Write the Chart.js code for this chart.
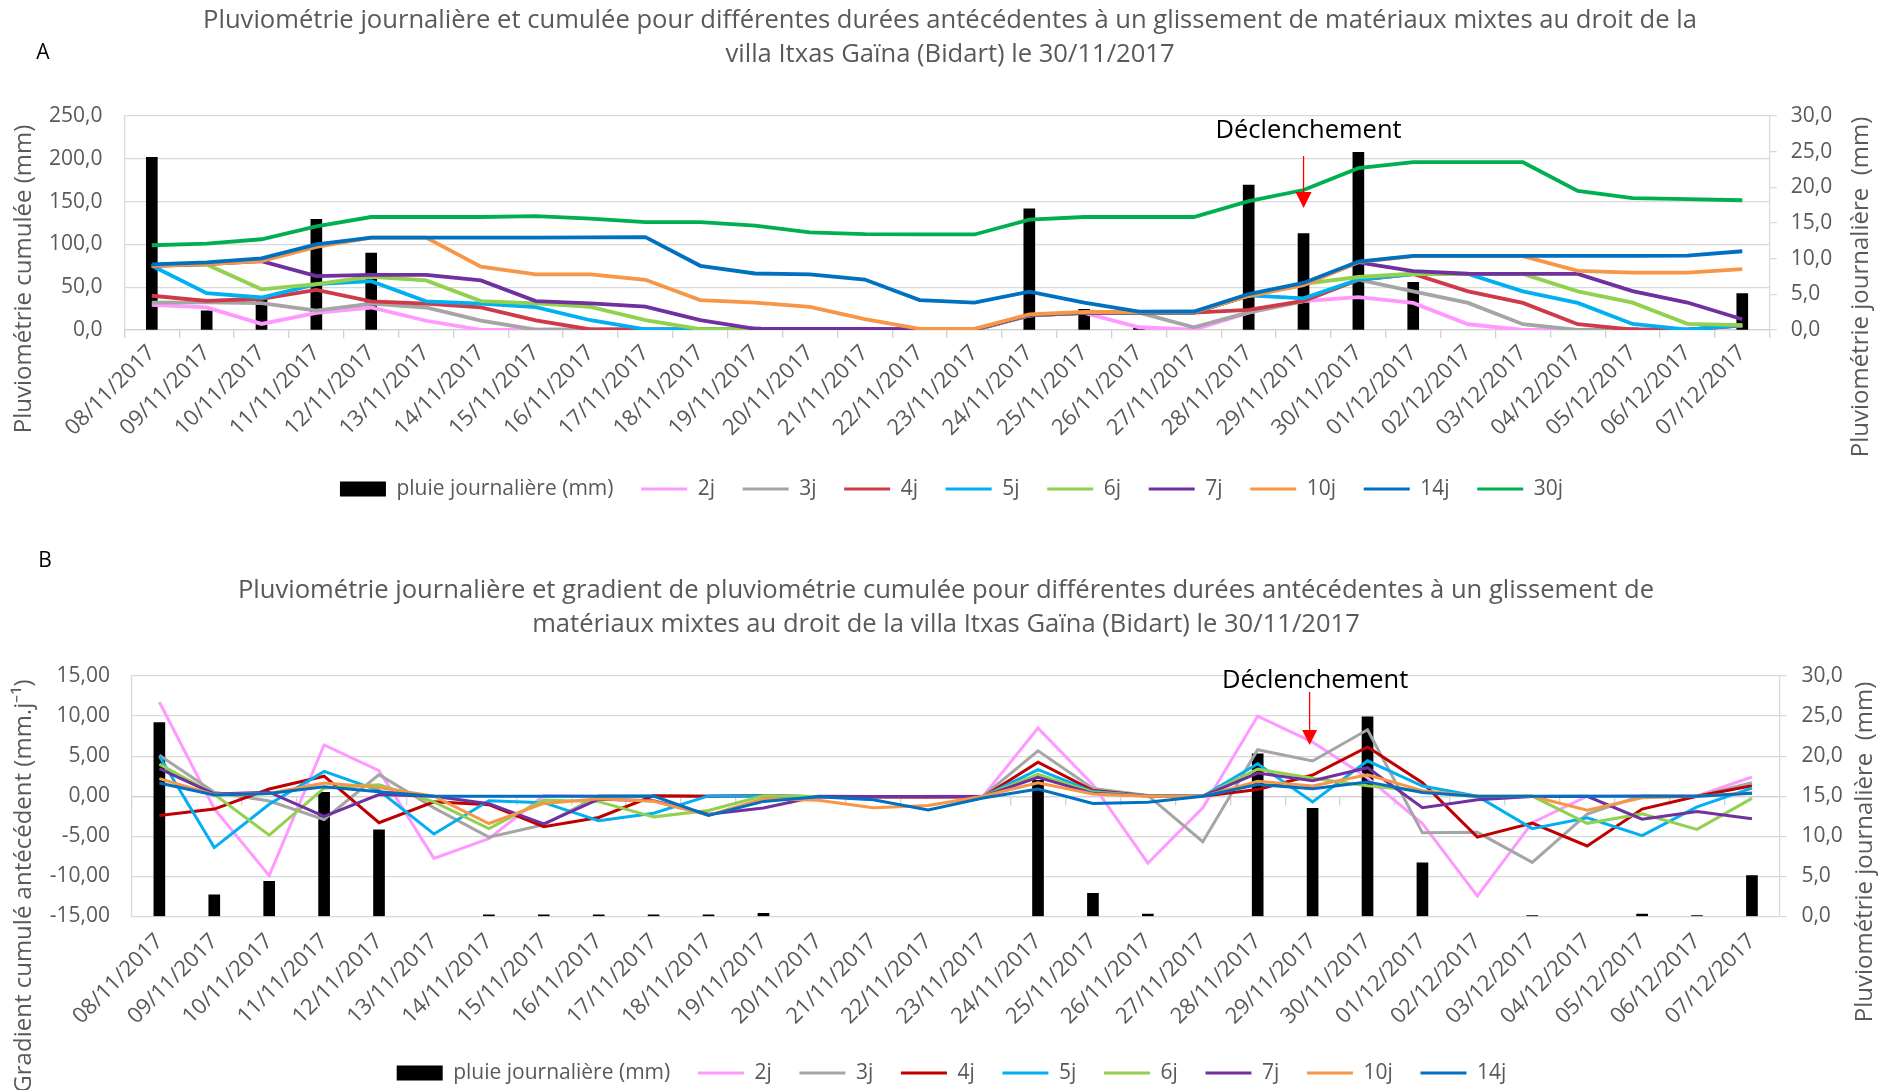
<!DOCTYPE html>
<html lang="fr">
<head>
<meta charset="utf-8">
<title>Pluviométrie - villa Itxas Gaïna (Bidart)</title>
<script src="https://cdn.jsdelivr.net/npm/chart.js@4.4.1/dist/chart.umd.min.js"></script>
<style>
  html, body { margin: 0; padding: 0; background: #fff; overflow: hidden; }
  #chartA { position: absolute; left: 0; top: 0; }
  #chartB { position: absolute; left: 0; top: 525px; }
</style>
</head>
<body>
<canvas id="chartA" width="1903" height="525"></canvas>
<canvas id="chartB" width="1903" height="570"></canvas>
<script>
// dates (08/11/2017 -> 07/12/2017)
const dates = ["08/11/2017", "09/11/2017", "10/11/2017", "11/11/2017", "12/11/2017", "13/11/2017",
  "14/11/2017", "15/11/2017", "16/11/2017", "17/11/2017", "18/11/2017", "19/11/2017", "20/11/2017",
  "21/11/2017", "22/11/2017", "23/11/2017", "24/11/2017", "25/11/2017", "26/11/2017", "27/11/2017",
  "28/11/2017", "29/11/2017", "30/11/2017", "01/12/2017", "02/12/2017", "03/12/2017", "04/12/2017",
  "05/12/2017", "06/12/2017", "07/12/2017"];

// pluie journaliere (mm)
const rain = [24.2, 2.7, 4.4, 15.5, 10.8, 0, 0.2, 0.2, 0.2, 0.2, 0.2, 0.4, 0, 0, 0, 0, 17.0, 2.9, 0.3, 0,
  20.3, 13.5, 24.9, 6.7, 0, 0.1, 0, 0.3, 0.1, 5.1];

// pluviometrie cumulee (mm)
const cum2j = [29.5, 26.4, 7.1, 19.9, 26.3, 10.8, 0.2, 0.4, 0.4, 0.4, 0.4, 0.6, 0.4, 0, 0, 0, 17.0, 19.9, 3.2, 0.3,
  20.3, 33.8, 38.4, 31.6, 6.7, 0.1, 0.1, 0.3, 0.4, 5.2];
const cum3j = [32.0, 32.2, 31.3, 22.6, 30.7, 26.3, 11.0, 0.4, 0.6, 0.6, 0.6, 0.8, 0.6, 0.4, 0, 0, 17.0, 19.9, 20.2, 3.2,
  20.6, 33.8, 58.7, 45.1, 31.6, 6.8, 0.1, 0.4, 0.4, 5.5];
const cum4j = [40.0, 34.0, 36.5, 46.8, 33.4, 30.7, 26.5, 11.2, 0.6, 0.8, 0.8, 1.0, 0.8, 0.6, 0.4, 0, 17.0, 19.9, 20.2, 20.2,
  23.5, 34.1, 58.7, 65.4, 45.1, 31.7, 6.8, 0.4, 0.4, 5.5];
const cum5j = [75.0, 43.0, 38.0, 53.5, 57.0, 33.5, 30.7, 26.7, 11.4, 0.8, 1.0, 1.2, 1.0, 0.8, 0.6, 0.4, 17.0, 19.9, 20.2, 20.2,
  40.5, 36.9, 59.0, 65.4, 65.4, 45.2, 31.7, 7.1, 0.5, 5.6];
const cum6j = [75.0, 76.5, 47.5, 53.6, 62.2, 58.0, 33.8, 31.0, 27.0, 11.6, 1.0, 1.4, 1.2, 1.0, 0.8, 0.6, 17.0, 19.9, 20.2, 20.2,
  40.5, 54.0, 61.9, 65.7, 65.4, 65.5, 45.2, 32.0, 7.2, 5.6];
const cum7j = [75.0, 77.0, 80.5, 63.0, 64.5, 64.5, 58.0, 33.8, 31.2, 27.2, 11.6, 1.4, 1.4, 1.2, 1.0, 0.8, 17.4, 19.9, 20.2, 20.2,
  40.5, 54.0, 78.9, 68.8, 65.7, 65.5, 65.5, 45.5, 32.1, 12.5];
const cum10j = [75.0, 77.0, 80.5, 97.0, 108.0, 108.0, 74.0, 65.0, 65.0, 58.7, 35.0, 32.0, 27.0, 12.8, 1.4, 1.4, 18.3, 21.0, 21.0, 20.8,
  39.7, 52.5, 79.3, 86.3, 86.3, 86.3, 69.0, 67.0, 67.0, 71.0];
const cum14j = [76.6, 79.0, 83.6, 100.0, 108.0, 108.0, 108.0, 108.0, 108.2, 108.5, 75.0, 66.0, 65.0, 59.0, 35.0, 32.0, 44.7, 32.1, 21.4, 21.6,
  42.0, 55.0, 80.0, 86.7, 86.7, 86.7, 86.7, 86.7, 86.9, 92.0];
const cum30j = [99.0, 101.0, 106.0, 121.0, 132.0, 132.0, 132.0, 133.0, 130.0, 126.0, 126.0, 122.0, 114.0, 112.0, 111.6, 111.6, 129.0, 132.0, 132.0, 132.0,
  150.5, 163.5, 189.0, 196.0, 196.0, 196.0, 162.5, 154.0, 153.0, 151.6];

// gradient de pluviometrie cumulee (mm.j-1)
const grad2j = [11.75, -1.55, -9.9, 6.4, 3.2, -7.75, -5.3, 0.1, 0, 0, 0, 0.1, -0.1, -0.2, 0, 0, 8.5, 1.45, -8.35, -1.45,
  10.0, 6.75, 2.3, -3.4, -12.45, -3.3, 0, 0.1, 0.05, 2.4];
const grad3j = [5.1, 0.5, -0.6, -2.9, 2.7, -1.45, -5.1, -3.55, 0.07, 0, 0, 0.07, -0.07, -0.13, -0.13, 0, 5.67, 0.97, 0.1, -5.67,
  5.8, 4.4, 8.3, -4.55, -4.5, -8.25, -2.23, 0.1, 0, 1.7];
const grad4j = [-2.4, -1.6, 0.9, 2.5, -3.3, -0.7, -1.05, -3.8, -2.65, 0.05, 0, 0.05, -0.05, -0.05, -0.1, -0.1, 4.25, 0.72, 0.07, 0,
  0.83, 2.65, 6.15, 1.7, -5.1, -3.35, -6.2, -1.6, 0, 1.3];
const grad5j = [5.0, -6.4, -1.0, 3.1, 0.7, -4.7, -0.56, -0.8, -3.06, -2.12, 0.04, 0.04, -0.04, -0.04, -0.04, -0.04, 3.32, 0.58, 0.06, 0,
  4.06, -0.72, 4.42, 1.28, 0, -4.04, -2.7, -4.92, -1.32, 1.02];
const grad6j = [4.0, 0.25, -4.85, 1.0, 1.43, -0.7, -4.03, -0.47, -0.67, -2.57, -1.77, 0.07, -0.03, -0.03, -0.03, -0.03, 2.73, 0.48, 0.05, 0,
  3.38, 2.25, 1.32, 0.63, -0.05, 0.02, -3.38, -2.2, -4.13, -0.27];
const grad7j = [3.45, 0.29, 0.5, -2.5, 0.21, 0, -0.93, -3.46, -0.37, -0.57, -2.23, -1.46, 0, -0.03, -0.03, -0.03, 2.37, 0.36, 0.04, 0,
  2.9, 1.93, 3.56, -1.44, -0.44, -0.03, 0, -2.86, -1.91, -2.8];
const grad10j = [2.2, 0.2, 0.35, 1.65, 1.1, 0, -3.4, -0.9, -0.3, -0.63, -2.37, -0.3, -0.5, -1.42, -1.14, 0, 1.69, 0.27, 0, -0.02,
  1.87, 1.28, 2.68, 0.7, 0, 0, -1.73, -0.2, 0, 0.4];
const grad14j = [1.66, 0.17, 0.33, 1.17, 0.57, 0, 0, 0, 0.01, 0.02, -2.39, -0.64, -0.07, -0.43, -1.71, -0.21, 0.91, -0.9, -0.76, 0.01,
  1.46, 0.93, 1.79, 0.48, 0, 0, 0, 0, 0.01, 0.36];

// index of the triggering day (29/11/2017)
const triggerIndex = 21;

var FONT = "'Open Sans', sans-serif";
var GREY = "#595959";
var GRID = "#d9d9d9";
var AXIS = "#d0d0d0";

Chart.defaults.font.family = FONT;
Chart.defaults.color = GREY;

function fmt(dec) {
  return function (v) { return Number(v).toFixed(dec).replace(".", ","); };
}

function lineSet(label, data, color, width, order) {
  return {
    type: "line", label: label, data: data, yAxisID: "y", order: order,
    borderColor: color, backgroundColor: color, borderWidth: width,
    pointRadius: 0, pointHoverRadius: 0, pointBorderWidth: width, pointBorderColor: color,
    pointStyle: "line", tension: 0, fill: false
  };
}

function barSet(data) {
  return {
    type: "bar", label: "pluie journalière (mm)", data: data, yAxisID: "y1", order: 50,
    // a zero day leaves no mark
    backgroundColor: function (c) { return c.raw > 0 ? "#000000" : "rgba(0,0,0,0)"; },
    borderWidth: 0, barThickness: 11
  };
}

function legendLabels(chart) {
  var items = Chart.defaults.plugins.legend.labels.generateLabels(chart);
  items.forEach(function (it) {
    var ds = chart.data.datasets[it.datasetIndex];
    if (ds.type === "bar") {
      it.pointStyle = "rect";
      it.lineWidth = 0;
      it.fillStyle = "#000000";
    } else {
      it.pointStyle = "line";
      it.lineWidth = Math.min(ds.borderWidth, 3.2);
      it.strokeStyle = ds.borderColor;
    }
  });
  return items;
}

// titles, axis titles and the "Déclenchement" marker
function overlay(o) {
  return {
    id: "overlay",
    afterDraw: function (chart) {
      var ctx = chart.ctx;
      var area = chart.chartArea;
      ctx.save();
      ctx.textAlign = "center";
      ctx.textBaseline = "middle";
      ctx.fillStyle = GREY;
      ctx.font = "25.6px " + FONT;
      o.title.forEach(function (line, i) { ctx.fillText(line, o.titleX, o.titleY[i]); });
      ctx.font = "24px " + FONT;
      o.axisTitles.forEach(function (t) {
        ctx.save();
        ctx.translate(t.x, t.y);
        ctx.rotate(-Math.PI / 2);
        ctx.fillText(t.text, 0, 0);
        ctx.restore();
      });
      ctx.fillStyle = "#000000";
      ctx.font = "21px " + FONT;
      ctx.fillText(o.letter, o.letterX, o.letterY);

      var t = o.trigger;
      var cx = chart.scales.x.getPixelForValue(triggerIndex);
      ctx.font = "25.5px " + FONT;
      ctx.fillText("Déclenchement", cx + t.textDx, area.top + t.textDy);
      var ax = cx + t.arrowDx;
      var tip = area.top + t.tipDy;
      ctx.strokeStyle = "#ff0000";
      ctx.fillStyle = "#ff0000";
      ctx.lineWidth = 1.3;
      ctx.beginPath();
      ctx.moveTo(ax, area.top + t.lineDy);
      ctx.lineTo(ax, tip - t.head + 2);
      ctx.stroke();
      ctx.beginPath();
      ctx.moveTo(ax - t.head / 2, tip - t.head);
      ctx.lineTo(ax + t.head / 2, tip - t.head);
      ctx.lineTo(ax, tip);
      ctx.closePath();
      ctx.fill();
      ctx.restore();
    }
  };
}

function baseOptions(p) {
  return {
    responsive: false,
    animation: false,
    events: [],
    layout: { padding: { top: p.top, left: 0, right: 0, bottom: p.bottom } },
    plugins: {
      title: { display: false },
      tooltip: { enabled: false },
      legend: {
        position: "bottom",
        labels: {
          usePointStyle: true, pointStyleWidth: 46, boxHeight: 15, padding: 27.7,
          color: GREY, font: { size: 21 },
          generateLabels: legendLabels,
          sort: function (a, b) { return a.datasetIndex - b.datasetIndex; }
        }
      }
    }
  };
}

// ---------- A : pluviometrie cumulee ----------
var optA = baseOptions({ top: 116, bottom: 15.5 });
optA.scales = {
  x: {
    type: "category", offset: true,
    grid: { offset: true, drawOnChartArea: false, drawTicks: true, tickLength: 8, color: AXIS, lineWidth: 1.3 },
    border: { display: true, color: AXIS, width: 1.3 },
    ticks: { autoSkip: false, minRotation: 45, maxRotation: 45, padding: 2, color: GREY, font: { size: 22 } },
    afterFit: function (s) { s.height = 120.8; }
  },
  y: {
    position: "left", min: 0, max: 250,
    ticks: { stepSize: 50, callback: fmt(1), padding: 22, color: GREY, font: { size: 21 } },
    grid: { color: GRID, lineWidth: 1.3, drawTicks: false },
    border: { display: true, color: GRID, width: 1.3 },
    afterFit: function (s) { s.width = 124.4; }
  },
  y1: {
    position: "right", min: 0, max: 30,
    ticks: { stepSize: 5, callback: fmt(1), padding: 14, color: GREY, font: { size: 21 } },
    grid: { drawOnChartArea: false, drawTicks: true, tickLength: 7, color: GRID, lineWidth: 1.3 },
    border: { display: true, color: GRID, width: 1.3 },
    afterFit: function (s) { s.width = 133.3; }
  }
};

new Chart(document.getElementById("chartA"), {
  type: "bar",
  data: {
    labels: dates,
    datasets: [
      barSet(rain),
      lineSet("2j", cum2j, "#FF99FF", 3.8, 9),
      lineSet("3j", cum3j, "#A5A5A5", 3.8, 8),
      lineSet("4j", cum4j, "#CF3A48", 3.8, 7),
      lineSet("5j", cum5j, "#00B0F0", 3.8, 6),
      lineSet("6j", cum6j, "#92D050", 3.8, 5),
      lineSet("7j", cum7j, "#7030A0", 3.8, 4),
      lineSet("10j", cum10j, "#F79646", 3.8, 3),
      lineSet("14j", cum14j, "#0070C0", 3.8, 2),
      lineSet("30j", cum30j, "#00B050", 3.8, 1)
    ]
  },
  options: optA,
  plugins: [overlay({
    title: ["Pluviométrie journalière et cumulée pour différentes durées antécédentes à un glissement de matériaux mixtes au droit de la",
      "villa Itxas Gaïna (Bidart) le 30/11/2017"],
    titleX: 950, titleY: [21, 55],
    letter: "A", letterX: 43, letterY: 53,
    axisTitles: [
      { text: "Pluviométrie cumulée (mm)", x: 24, y: 279 },
      { text: "Pluviométrie journalière  (mm)", x: 1861, y: 287 }
    ],
    trigger: { textDx: 5, textDy: 14.3, arrowDx: 0, lineDy: 40, tipDy: 92, head: 16 }
  })]
});

// ---------- B : gradient de pluviometrie cumulee ----------
var optB = baseOptions({ top: 151, bottom: 1.5 });
optB.scales = {
  x: {
    type: "category", offset: true,
    grid: { display: false, drawTicks: false },
    border: { display: false },
    ticks: { autoSkip: false, minRotation: 45, maxRotation: 45, padding: 12, color: GREY, font: { size: 22 } },
    afterFit: function (s) { s.height = 118.3; }
  },
  x0: {
    type: "category", offset: true, position: { y: 0 },
    grid: { offset: true, drawOnChartArea: false, drawTicks: true, tickLength: 8, color: AXIS, lineWidth: 1.3 },
    border: { display: true, color: AXIS, width: 1.3 },
    ticks: { display: false }
  },
  y: {
    position: "left", min: -15, max: 15,
    ticks: { stepSize: 5, callback: fmt(2), padding: 22, color: GREY, font: { size: 21 } },
    grid: { color: GRID, lineWidth: 1.3, drawTicks: false },
    border: { display: true, color: GRID, width: 1.3 },
    afterFit: function (s) { s.width = 131.9; }
  },
  y1: {
    position: "right", min: 0, max: 30,
    ticks: { stepSize: 5, callback: fmt(1), padding: 15, color: GREY, font: { size: 21 } },
    grid: { drawOnChartArea: false, drawTicks: true, tickLength: 7, color: GRID, lineWidth: 1.3 },
    border: { display: true, color: GRID, width: 1.3 },
    afterFit: function (s) { s.width = 123.6; }
  }
};

new Chart(document.getElementById("chartB"), {
  type: "bar",
  data: {
    labels: dates,
    datasets: [
      barSet(rain),
      lineSet("2j", grad2j, "#FF99FF", 3.0, 9),
      lineSet("3j", grad3j, "#A5A5A5", 3.0, 8),
      lineSet("4j", grad4j, "#C00000", 3.0, 7),
      lineSet("5j", grad5j, "#00B0F0", 3.0, 6),
      lineSet("6j", grad6j, "#92D050", 3.0, 5),
      lineSet("7j", grad7j, "#7030A0", 3.0, 4),
      lineSet("10j", grad10j, "#F79646", 3.0, 3),
      lineSet("14j", grad14j, "#0070C0", 3.0, 2)
    ]
  },
  options: optB,
  plugins: [overlay({
    title: ["Pluviométrie journalière et gradient de pluviométrie cumulée pour différentes durées antécédentes à un glissement de",
      "matériaux mixtes au droit de la villa Itxas Gaïna (Bidart) le 30/11/2017"],
    titleX: 946, titleY: [66, 100],
    letter: "B", letterX: 45, letterY: 36,
    axisTitles: [
      { text: "Gradient cumulé antécédent (mm.j\u207B\u00B9)", x: 24, y: 361 },
      { text: "Pluviométrie journalière  (mm)", x: 1865, y: 327 }
    ],
    trigger: { textDx: 2.5, textDy: 5, arrowDx: -3, lineDy: 16, tipDy: 69, head: 15 }
  })]
});
</script>
</body>
</html>
